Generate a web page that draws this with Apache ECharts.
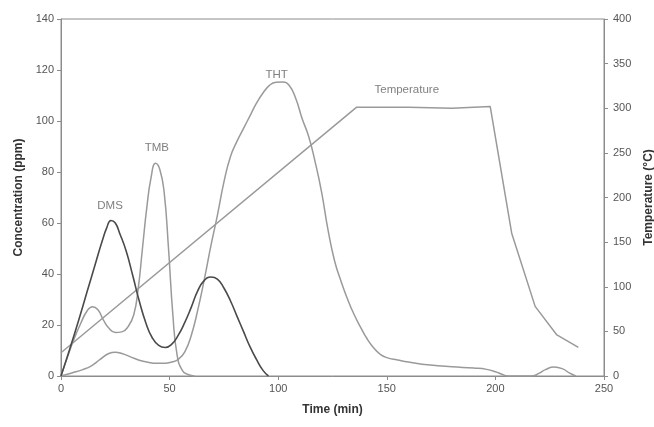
<!DOCTYPE html>
<html>
<head>
<meta charset="utf-8">
<script src="https://cdn.jsdelivr.net/npm/echarts@6/dist/echarts.min.js"></script>
<style>html,body{margin:0;padding:0;background:#fff}#c{width:654px;height:427px}</style>
</head>
<body>
<div id="c"></div>
<script>
// Time (min), concentration (ppm)
const dms = [[0,0],[4,10.5],[8,21.5],[12,33],[16,44.5],[19,53],[21,58],[23,61],[25,60],[27,56],[30,49],[33,39.5],[36,29.5],[39,21],[42,15],[45,12],[48,11.2],[51,12.5],[54,16],[57,21],[60,27],[63,33.5],[66,37.5],[69,38.8],[72,38],[75,34.5],[78,29.5],[81,23.5],[84,17.5],[87,11.5],[90,6.5],[93,2.2],[95.5,0]];
const tmb = [[0,0],[3,7.5],[6,14.5],[9,20.5],[12,25.5],[14.5,27.2],[17,26],[19.5,22],[22,18.8],[25,17.1],[28,17.3],[31,19.5],[33.5,24],[35.5,34],[37.5,50],[39.5,66],[41.5,78],[43.5,83.4],[45.5,81],[47.5,72],[49.5,50],[51.5,24],[53.5,8],[56,2],[58.5,0.6],[61.5,0]];
const tht = [[0,0],[5,1.2],[10,2.5],[14,4],[18,6.5],[22,8.8],[25,9.3],[28,8.8],[32,7.5],[36,6.2],[40,5.4],[44,5],[48,5],[51,5.5],[54,6.5],[57,9.5],[60,16],[63,26],[66,38],[69,51],[72,63],[75,76],[78,86],[81,92],[84,97],[87,102],[90,107],[93,111],[96,114],[99,115.2],[102,115.3],[105,114],[108,109],[111,101],[114,94],[117,84],[120,72],[123,57],[126,45],[129,37],[132,30],[135,24],[138,19],[141,14.5],[144,11],[147,8.5],[150,7.2],[155,6.3],[160,5.5],[170,4.3],[180,3.6],[190,3.1],[196,2.6],[200,1.7],[203,0.7],[205.5,0],[217,0],[220,1],[223,2.5],[227,3.5],[231,2.8],[234,1.2],[237,0]];
// Time (min), temperature (°C)
const temperature = [[0,26],[136,301],[160,301],[180,300],[197.6,302],[207.5,160],[218.3,78],[228.3,46],[238.2,32]];
// annotation labels [time, value]
const labelDMS = [22.6, 66.7];
const labelTMB = [44.1, 89.3];
const labelTHT = [99.3, 118];
const labelTemp = [159.2, 321];

const font = 'Liberation Sans, Arial, sans-serif';
const axisCol = '#8c8c8c';
const dark = '#4a4a4a';
const light = '#9a9a9a';

function mp(coord, text) {
  return {
    symbol: 'circle', symbolSize: 0, silent: true,
    label: {show: true, position: 'inside', formatter: text, color: '#808080', fontFamily: font, fontSize: 11.5},
    data: [{coord: coord}]
  };
}

const chart = echarts.init(document.getElementById('c'), null, {renderer: 'canvas'});
chart.setOption({
  animation: false,
  grid: {left: 61, right: 50, top: 19, bottom: 51, show: true, borderColor: axisCol, borderWidth: 1, backgroundColor: 'transparent', outerBoundsMode: 'none', containLabel: false},
  xAxis: {
    type: 'value', min: 0, max: 250, interval: 50,
    name: 'Time (min)', nameLocation: 'middle', nameGap: 28,
    nameTextStyle: {fontFamily: font, fontSize: 12, fontWeight: 'bold', color: '#333'},
    axisLine: {show: true, lineStyle: {color: axisCol}},
    axisTick: {show: true, length: 4, lineStyle: {color: axisCol}},
    axisLabel: {fontFamily: font, fontSize: 11, color: '#555', margin: 7},
    splitLine: {show: false}
  },
  yAxis: [{
    type: 'value', min: 0, max: 140, interval: 20,
    name: 'Concentration (ppm)', nameLocation: 'middle', nameGap: 36,
    nameTextStyle: {fontFamily: font, fontSize: 12, fontWeight: 'bold', color: '#333'},
    axisLine: {show: true, lineStyle: {color: axisCol}},
    axisTick: {show: true, length: 4, lineStyle: {color: axisCol}},
    axisLabel: {fontFamily: font, fontSize: 11, color: '#555', margin: 7},
    splitLine: {show: false}
  }, {
    type: 'value', min: 0, max: 400, interval: 50, position: 'right',
    name: 'Temperature (°C)', nameLocation: 'middle', nameGap: 36,
    nameTextStyle: {fontFamily: font, fontSize: 12, fontWeight: 'bold', color: '#333'},
    axisLine: {show: true, lineStyle: {color: axisCol}},
    axisTick: {show: true, length: 4, lineStyle: {color: axisCol}},
    axisLabel: {fontFamily: font, fontSize: 11, color: '#555', margin: 9},
    splitLine: {show: false}
  }],
  series: [
    {name: 'THT', type: 'line', data: tht, smooth: 0.5, showSymbol: false, lineStyle: {color: light, width: 1.5}, itemStyle: {color: light}, markPoint: mp(labelTHT, 'THT')},
    {name: 'TMB', type: 'line', data: tmb, smooth: 0.5, showSymbol: false, lineStyle: {color: light, width: 1.5}, itemStyle: {color: light}, markPoint: mp(labelTMB, 'TMB')},
    {name: 'Temperature', type: 'line', yAxisIndex: 1, data: temperature, smooth: false, showSymbol: false, lineStyle: {color: light, width: 1.5}, itemStyle: {color: light}, markPoint: mp(labelTemp, 'Temperature')},
    {name: 'DMS', type: 'line', data: dms, smooth: 0.5, showSymbol: false, lineStyle: {color: dark, width: 1.6}, itemStyle: {color: dark}, markPoint: mp(labelDMS, 'DMS')}
  ]
});
</script>
</body>
</html>
